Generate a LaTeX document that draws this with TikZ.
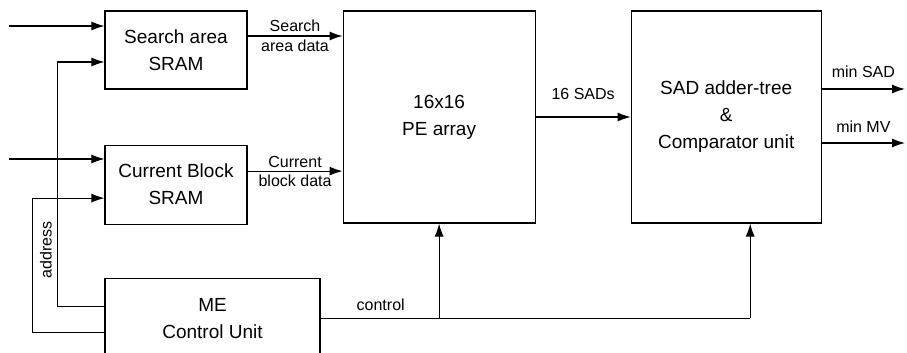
\documentclass[tikz,border=0pt]{standalone}
\usepackage{fontspec}
\setmainfont{Liberation Sans}
\usetikzlibrary{arrows.meta, positioning}

\begin{document}
\begin{tikzpicture}[x=1pt, y=-1pt, line width=1.1pt, >={Latex[length=13pt,width=9pt]},
  block/.style={draw, rectangle, align=center, font=\fontsize{19}{27}\selectfont},
  lbl/.style={font=\fontsize{16}{19}\selectfont}]
\useasboundingbox (0,0) rectangle (907,353);
\clip (0,0) rectangle (907,353);

% blocks
\node (sram) [block, minimum width=142pt, minimum height=78pt] at (176,50) {Search area\\SRAM};
\node (cur) [block, minimum width=142pt, minimum height=79pt, below=55pt of sram] {Current Block\\SRAM};
\node (pe) [block, minimum width=192pt, minimum height=212pt, right=95pt of sram.north east, anchor=north west] {16x16\\PE array};
\node (sad) [block, minimum width=190pt, minimum height=212pt, right=95pt of pe] {SAD adder-tree\\\&\\Comparator unit};
\node (me) [block, minimum width=215pt, minimum height=80pt, below=53pt of cur.south west, anchor=north west] {ME\\Control Unit};

% free ends
\coordinate (insram) at (9,26);
\coordinate (incur) at (9,159);
\coordinate (minsad) at (905,89);
\coordinate (minmv) at (905,143);
\coordinate (sdata) at ([yshift=14pt]sram.east);
\coordinate (cdata) at ([yshift=13.5pt]cur.east);
\coordinate (ctl) at ([xshift=24pt]sad.south |- me.east);

% inputs
\draw[->] (insram) -- (insram -| sram.west);
\draw[->] (incur) -- (incur -| cur.west);

% address lines
\draw[->] ([yshift=12pt]me.west) -- ++(-47,0) |- ([yshift=-12pt]sram.west);
\draw[->] ([yshift=-14pt]me.west) -- ++(-72,0) |- ([yshift=-13.5pt]cur.west);
\node (addr) [lbl, rotate=90] at (46,250) {address};

% data paths
\draw[->] (sdata) -- node[lbl, above] {Search} node[lbl, below] {area data} (sdata -| pe.west);
\draw[->] (cdata) -- node[lbl, above] {Current} node[lbl, below] {block data} (cdata -| pe.west);
\draw[->] (pe.east) -- node[lbl, above=13pt] {16 SADs} (sad.west);
\draw[->] (minsad -| sad.east) -- node[lbl, above=7pt] {min SAD} (minsad);
\draw[->] (minmv -| sad.east) -- node[lbl, above=7pt] {min MV} (minmv);

% control
\draw (me.east) -- node[lbl, above=4pt, pos=0.14] {control} (ctl);
\draw[->] (ctl) -- ([xshift=24pt]sad.south);
\draw[->] (me.east -| pe.south) -- (pe.south);
\end{tikzpicture}
\end{document}
